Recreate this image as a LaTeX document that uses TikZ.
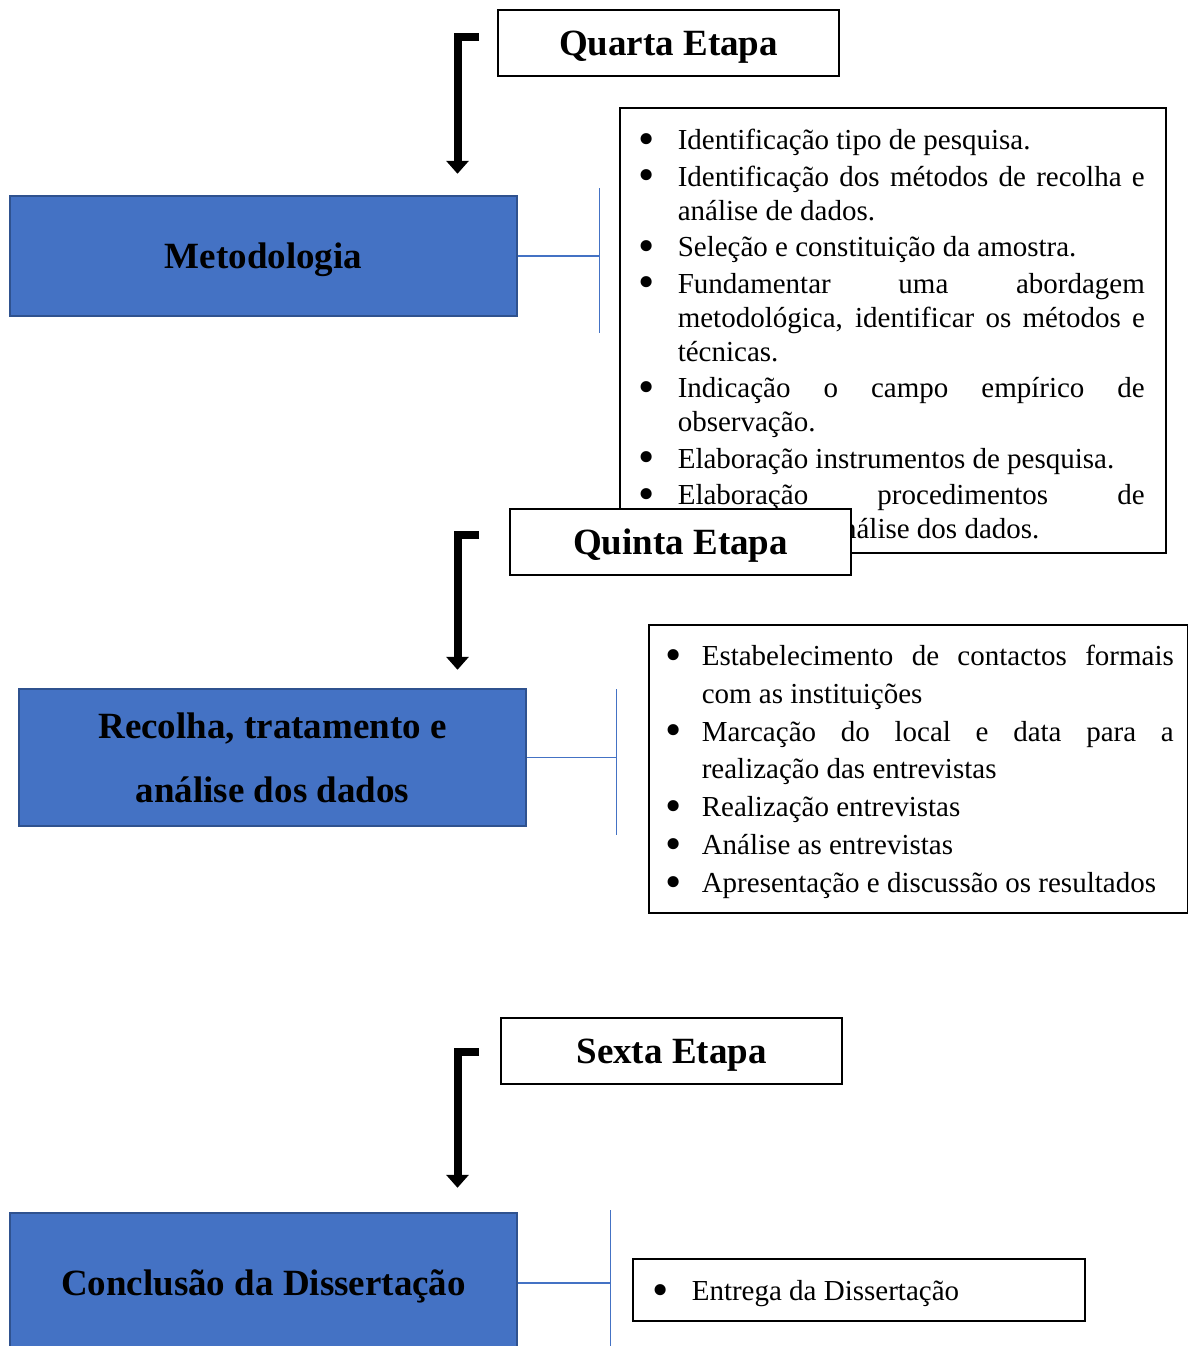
\documentclass[tikz,border=0pt]{standalone}
\usepackage{fontspec}
\setmainfont{Liberation Serif}
\usetikzlibrary{arrows.meta,positioning}
\definecolor{azul}{HTML}{4472C4}
\definecolor{azulescuro}{HTML}{2F528F}
\newcommand{\marca}{\raisebox{-4.5pt}{\scalebox{1.6}{\textbullet}}}
\newenvironment{topicos}[2]{\begin{list}{\marca}{\setlength{\leftmargin}{#1}\setlength{\labelsep}{#2}%
  \setlength{\labelwidth}{20pt}\setlength{\itemsep}{0pt}\setlength{\parsep}{0pt}%
  \setlength{\topsep}{0pt}\setlength{\partopsep}{0pt}}\tolerance=9999 \hbadness=10000 \hyphenpenalty=10000}{\end{list}}

\begin{document}
\begin{tikzpicture}[x=1pt,y=-1pt,
  etapa/.style={draw,line width=1.6pt,fill=white,minimum width=341pt,minimum height=66pt,inner sep=0pt,text depth=0pt,font=\fontsize{37}{44}\selectfont\bfseries},
  fase/.style={draw=azulescuro,line width=2.4pt,fill=azul,minimum width=507pt,inner sep=0pt,align=center,font=\fontsize{37}{64}\selectfont\bfseries},
  lista/.style={draw,line width=1.6pt,fill=white,anchor=north west,align=justify,font=\fontsize{29}{34}\selectfont},
  ligacao/.style={draw=azul,line width=1.2pt},
  passo/.style={line width=8pt,-{Triangle[width=22pt,length=13pt]}}]
  \useasboundingbox (0,0) rectangle (1188,1346);

  \node[etapa] (q4) at (668.5,43) {Quarta Etapa};
  \node[fase,minimum height=120pt,text depth=0pt] (met) at (263.5,256) {Metodologia};
  \node[lista,inner xsep=21pt,inner ysep=4pt,text width=504pt,text height=4pt,text depth=433pt] (l4) at (619,107) {%
    \begin{topicos}{37pt}{23pt}
      \setlength{\itemsep}{2.5pt}
      \item Identificação tipo de pesquisa.
      \item Identificação dos métodos de recolha e \linebreak análise de dados.
      \item Seleção e constituição da amostra.
      \item Fundamentar uma abordagem \linebreak metodológica, identificar os métodos e \linebreak técnicas.
      \item Indicação o campo empírico de \linebreak observação.
      \item Elaboração instrumentos de pesquisa.
      \item Elaboração procedimentos de \linebreak tratamento e análise dos dados.
    \end{topicos}};

  \node[etapa] (q5) at (680.5,542) {Quinta Etapa};
  \node[fase,minimum height=137pt] (rec) at (272.5,757.5) {Recolha, tratamento e\\análise dos dados};
  \node[lista,inner xsep=14pt,inner ysep=2pt,text width=511pt,text height=1.5pt,text depth=282.5pt,font=\fontsize{29}{37.5}\selectfont] (l5) at (648,624) {%
    \begin{topicos}{39pt}{20pt}
      \setlength{\itemsep}{0.5pt}
      \item Estabelecimento de contactos formais \linebreak com as instituições
      \item Marcação do local e data para a \linebreak realização das entrevistas
      \item Realização entrevistas
      \item Análise as entrevistas
      \item Apresentação e discussão os resultados
    \end{topicos}};

  \node[etapa] (q6) at (671.5,1051) {Sexta Etapa};
  \node[fase,minimum height=140pt,text depth=0pt] (conc) at (263.5,1283) {Conclusão da Dissertação};
  \node[lista,inner xsep=14pt,inner ysep=2pt,text width=424pt,text height=6pt,text depth=52pt] (l6) at (632,1258) {%
    \begin{topicos}{45pt}{23pt}
      \item Entrega da Dissertação
    \end{topicos}};

  \draw[passo] ([xshift=-18pt,yshift=6pt]q4.west) -| ([xshift=194pt,yshift=21pt]met.north);
  \draw[passo] ([xshift=-30pt,yshift=7pt]q5.west) -| ([xshift=185pt,yshift=18pt]rec.north);
  \draw[passo] ([xshift=-21pt,yshift=-1pt]q6.west) -| ([xshift=194pt,yshift=24pt]conc.north);

  \draw[ligacao] (met.east) -- ++(81,0) coordinate (m1);
  \draw[ligacao] ([yshift=68pt]m1) -- ([yshift=-77pt]m1);
  \draw[ligacao] (rec.east) -- ++(89,0) coordinate (r1);
  \draw[ligacao] ([yshift=68.5pt]r1) -- ([yshift=-77.5pt]r1);
  \draw[ligacao] (conc.east) -- ++(92,0) coordinate (c1);
  \draw[ligacao] ([yshift=73pt]c1) -- ([yshift=-77pt]c1);
\end{tikzpicture}
\end{document}
